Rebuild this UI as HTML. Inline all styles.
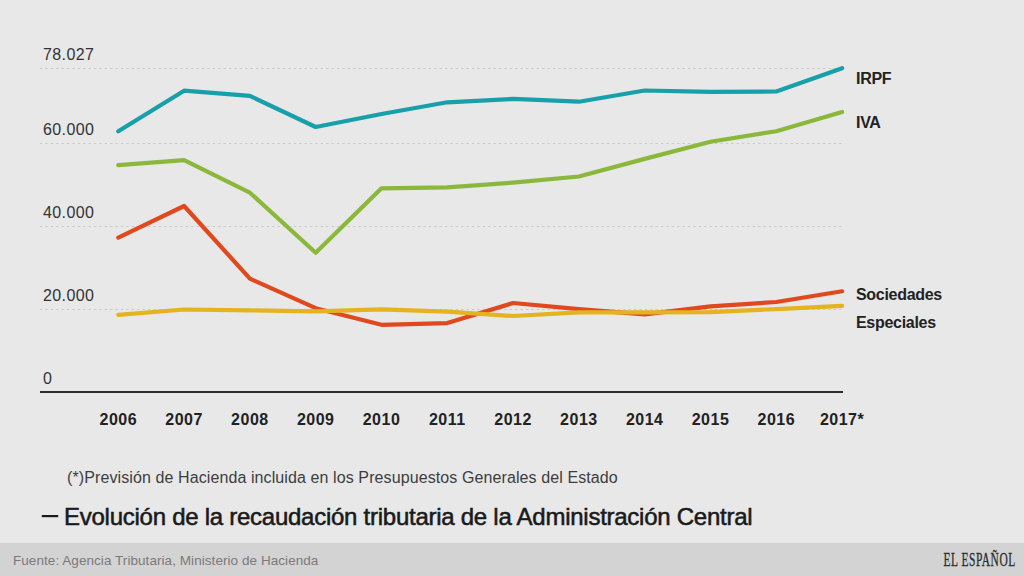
<!DOCTYPE html>
<html><head><meta charset="utf-8">
<style>
html,body{margin:0;padding:0;width:1024px;height:576px;overflow:hidden;background:#e8e8e8;}
svg{display:block;}
text{font-family:"Liberation Sans",sans-serif;}
.yl{font-size:16px;fill:#333;letter-spacing:0.4px;}
.xl{font-size:16px;font-weight:700;fill:#222;text-anchor:middle;letter-spacing:0.5px;}
.sl{font-size:16px;font-weight:700;fill:#222;letter-spacing:-0.3px;}
.fn{font-size:16px;fill:#3d3d3d;letter-spacing:0.1px;}
.ti{font-size:24px;fill:#1a1a1a;letter-spacing:-0.26px;stroke:#1a1a1a;stroke-width:0.55px;}
.ft{font-size:13.5px;fill:#7a7a7a;letter-spacing:0.06px;}
.logo{font-family:"Liberation Serif",serif;font-size:19.6px;font-weight:400;fill:#2a2a2a;letter-spacing:0.9px;stroke:#2a2a2a;stroke-width:0.3px;}
</style></head><body>
<svg width="1024" height="576" viewBox="0 0 1024 576">
<rect x="0" y="0" width="1024" height="576" fill="#e8e8e8"/>
<line x1="40" y1="309.5" x2="843" y2="309.5" stroke="#c8c8c8" stroke-width="1" stroke-dasharray="2.2,3.2"/>
<line x1="40" y1="226.5" x2="843" y2="226.5" stroke="#c8c8c8" stroke-width="1" stroke-dasharray="2.2,3.2"/>
<line x1="40" y1="143.5" x2="843" y2="143.5" stroke="#c8c8c8" stroke-width="1" stroke-dasharray="2.2,3.2"/>
<line x1="40" y1="68.5" x2="843" y2="68.5" stroke="#c8c8c8" stroke-width="1" stroke-dasharray="2.2,3.2"/>

<line x1="40" y1="392" x2="843" y2="392" stroke="#2b2b2b" stroke-width="2"/>
<text x="43" y="383.6" class="yl">0</text>
<text x="43" y="300.6" class="yl">20.000</text>
<text x="43" y="217.6" class="yl">40.000</text>
<text x="43" y="134.6" class="yl">60.000</text>
<text x="43" y="59.8" class="yl">78.027</text>

<text x="118.3" y="424.8" class="xl">2006</text>
<text x="184.1" y="424.8" class="xl">2007</text>
<text x="249.9" y="424.8" class="xl">2008</text>
<text x="315.7" y="424.8" class="xl">2009</text>
<text x="381.5" y="424.8" class="xl">2010</text>
<text x="447.3" y="424.8" class="xl">2011</text>
<text x="513.1" y="424.8" class="xl">2012</text>
<text x="578.9" y="424.8" class="xl">2013</text>
<text x="644.7" y="424.8" class="xl">2014</text>
<text x="710.5" y="424.8" class="xl">2015</text>
<text x="776.3" y="424.8" class="xl">2016</text>
<text x="842.1" y="424.8" class="xl">2017*</text>

<polyline points="118.3,131.3 184.1,90.7 249.9,95.9 315.7,127.0 381.5,114.0 447.3,102.3 513.1,98.9 578.9,101.7 644.7,90.5 710.5,91.8 776.3,91.5 842.1,68.2" fill="none" stroke="#18a0aa" stroke-width="4.2" stroke-linejoin="round" stroke-linecap="round"/>
<polyline points="118.3,165.2 184.1,160.2 249.9,192.7 315.7,252.7 381.5,188.3 447.3,187.4 513.1,182.6 578.9,176.5 644.7,158.9 710.5,141.7 776.3,131.2 842.1,112.0" fill="none" stroke="#8bb83a" stroke-width="4.2" stroke-linejoin="round" stroke-linecap="round"/>
<polyline points="118.3,237.6 184.1,206.0 249.9,278.7 315.7,308.2 381.5,324.8 447.3,323.1 513.1,303.0 578.9,309.2 644.7,314.3 710.5,306.3 776.3,302.0 842.1,291.3" fill="none" stroke="#e0481e" stroke-width="4.2" stroke-linejoin="round" stroke-linecap="round"/>
<polyline points="118.3,314.9 184.1,309.5 249.9,310.4 315.7,311.3 381.5,309.4 447.3,311.7 513.1,316.0 578.9,312.4 644.7,312.3 710.5,312.1 776.3,309.1 842.1,305.8" fill="none" stroke="#e4b31f" stroke-width="4.2" stroke-linejoin="round" stroke-linecap="round"/>

<text x="856" y="84.3" class="sl">IRPF</text>
<text x="856" y="128" class="sl">IVA</text>
<text x="856" y="299.5" class="sl">Sociedades</text>
<text x="856" y="327.7" class="sl">Especiales</text>
<text x="67" y="483.1" class="fn">(*)Previsión de Hacienda incluida en los Presupuestos Generales del Estado</text>
<rect x="41.8" y="515" width="16.4" height="2.2" fill="#1a1a1a"/>
<text x="64" y="524.6" class="ti">Evolución de la recaudación tributaria de la Administración Central</text>
<rect x="0" y="543" width="1024" height="33" fill="#d3d3d3"/>
<text x="13" y="564.5" class="ft">Fuente: Agencia Tributaria, Ministerio de Hacienda</text>
<text x="0" y="0" class="logo" transform="translate(943.5,566.2) scale(0.585,1)">EL ESPAÑOL</text>
</svg>
</body></html>
